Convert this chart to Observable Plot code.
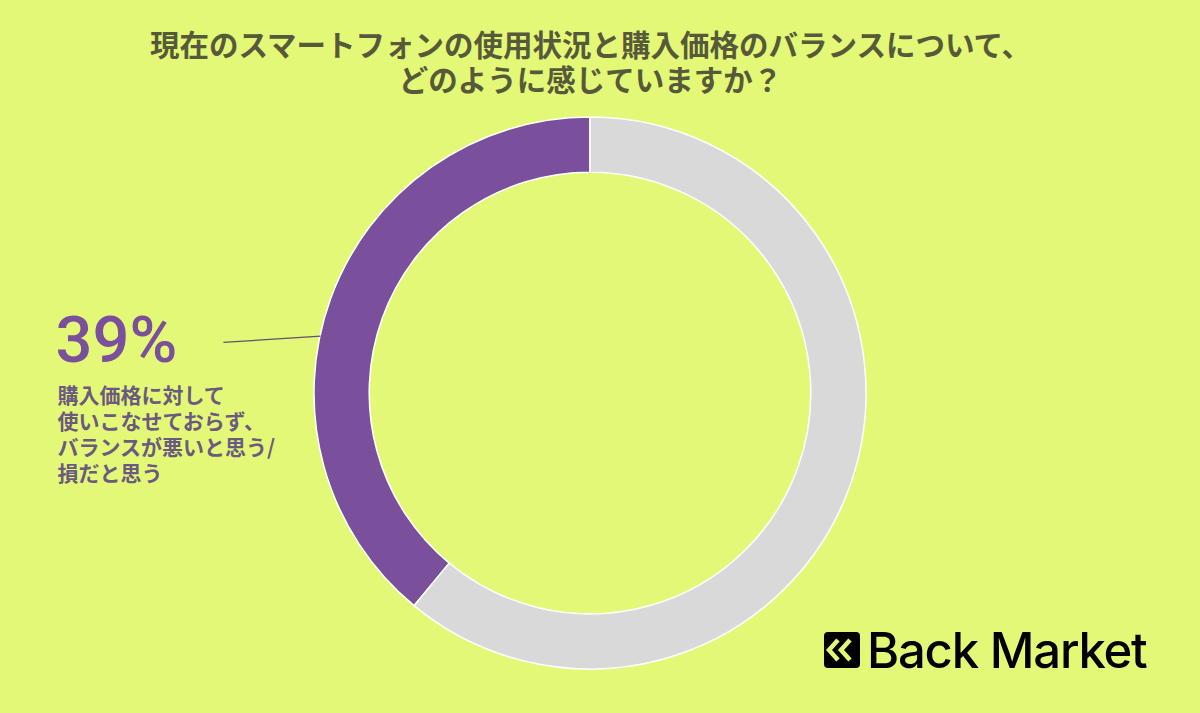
<!DOCTYPE html>
<html><head><meta charset="utf-8">
<script src="https://cdn.jsdelivr.net/npm/d3@7"></script>
<script src="https://cdn.jsdelivr.net/npm/@observablehq/plot@0.6"></script>
<style>
html,body{margin:0;padding:0;background:#e4f877;overflow:hidden;}
</style></head><body><div id="chart"></div>
<script>
const titleLines = ["現在のスマートフォンの使用状況と購入価格のバランスについて、", "どのように感じていますか？"];
const categories = ["購入価格に対して使いこなせておらず、バランスが悪いと思う/損だと思う", "その他"];
const values = [39, 61];
const colors = ["#7a4f9c", "#d9d9d9"];
const labelValue = ["39%"];
const labelLines = ["購入価格に対して", "使いこなせておらず、", "バランスが悪いと思う/", "損だと思う"];
const brand = "Back Market";
const leader = [{x1: -1.33, y1: 0.185, angle: -78}];

const data = categories.map((c, i) => ({category: c, value: values[i], color: colors[i]}));

function donut(index, scales, v, dims) {
  const cx = scales.x(0), cy = scales.y(0);
  const R = scales.x(1) - scales.x(0);
  const arcs = d3.pie().value(d => d.value).sort(null).startAngle(0).endAngle(-2 * Math.PI)(data);
  const arc = d3.arc().outerRadius(R).innerRadius(R * 0.80);
  const g = d3.create("svg:g").attr("transform", `translate(${cx},${cy})`);
  g.selectAll("path").data(arcs).join("path")
    .attr("d", arc).attr("fill", d => d.data.color)
    .attr("stroke", "#ffffff").attr("stroke-width", 1.5);
  return g.node();
}

function logo(index, scales, v, dims) {
  const g = d3.create("svg:g").attr("transform", `translate(${dims.width - 376},${dims.height - 81})`);
  g.append("rect").attr("x", 0).attr("y", 0).attr("width", 36).attr("height", 36).attr("rx", 4).attr("fill", "#000");
  const chev = [[14, 8], [5, 18], [14, 28]];
  [0, 12].forEach(off => {
    g.append("polyline").attr("points", chev.map(p => `${p[0] + off},${p[1]}`).join(" "))
      .attr("fill", "none").attr("stroke", "#e4f877").attr("stroke-width", 4.5).attr("stroke-linejoin", "miter");
  });
  g.append("text").attr("x", 43).attr("y", 36).attr("text-anchor", "start")
    .attr("font-family", "Inter").attr("font-weight", 500)
    .attr("font-size", 49).attr("letter-spacing", -1.2).attr("fill", "#000").text(brand);
  return g.node();
}

const leaderData = leader.map(d => ({x1: d.x1, y1: d.y1, x2: Math.sin(d.angle * Math.PI / 180), y2: Math.cos(d.angle * Math.PI / 180)}));

const chart = Plot.plot({
  width: 1200,
  height: 713,
  marginLeft: 314,
  marginRight: 334,
  marginTop: 117,
  marginBottom: 44,
  x: {domain: [-1, 1], axis: null},
  y: {domain: [-1, 1], axis: null},
  style: {background: "#e4f877", overflow: "visible"},
  marks: [
    donut,
    Plot.link(leaderData, {x1: "x1", y1: "y1", x2: "x2", y2: "y2", stroke: "#5e5070", strokeWidth: 1.3}),
    Plot.text([titleLines.join("\n")], {
      text: d => d, frameAnchor: "top", lineAnchor: "middle", dy: -55, lineHeight: 1.17,
      fontFamily: "Noto Sans CJK JP", fontWeight: 700, fontSize: 29.5, fill: "#575a3a"
    }),
    Plot.text(labelValue, {
      text: d => d, frameAnchor: "left", textAnchor: "start", dx: -259, dy: -52,
      fontFamily: "Roboto", fontWeight: 500, fontSize: 65, fill: "#7a4f9c"
    }),
    Plot.text([labelLines.join("\n")], {
      text: d => d, frameAnchor: "left", textAnchor: "start", dx: -257, dy: 40, lineHeight: 1.24,
      fontFamily: "Noto Sans CJK JP", fontWeight: 700, fontSize: 21, fill: "#6b5a80"
    }),
    logo
  ]
});
document.getElementById("chart").append(chart);
</script>
</body></html>
